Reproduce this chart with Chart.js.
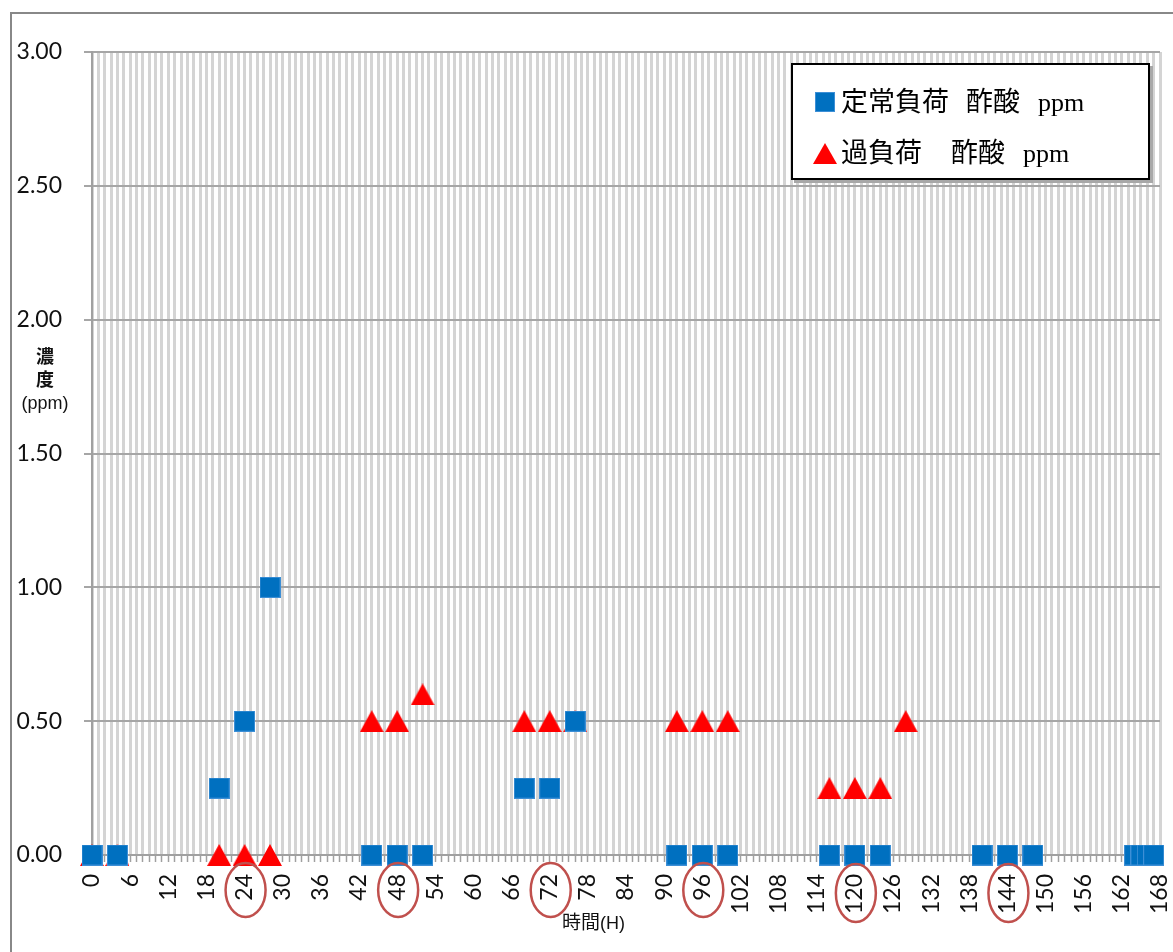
<!DOCTYPE html>
<html>
<head>
<meta charset="utf-8">
<script src="https://cdn.jsdelivr.net/npm/chart.js@4/dist/chart.umd.min.js"></script>
<style>
  html, body { margin: 0; padding: 0; background: #fff; }
  #wrap { position: relative; width: 1173px; height: 952px; overflow: hidden; }
  #frame { position: absolute; left: 10px; top: 12px; width: 1200px; height: 1000px; border: 2px solid #888; }
  #mycanvas { position: absolute; left: 0; top: 0; }
  #ytitle {
    position: absolute; left: 14px; top: 344px; width: 62px; text-align: center;
    font-family: "Noto Sans CJK JP", sans-serif; font-size: 18px; line-height: 23px; color: #111;
    font-weight: 600;
  }
  #ytitle .unit { font-family: "Liberation Sans", sans-serif; font-size: 18px; font-weight: normal; }
  #xtitle {
    position: absolute; left: 562px; top: 909px; white-space: pre;
    font-family: "Noto Sans CJK JP", sans-serif; font-size: 19px; line-height: 24px; color: #111;
  }
  #xtitle .unit { font-family: "Liberation Sans", sans-serif; font-size: 18px; }
  #legend {
    position: absolute; left: 791px; top: 63px; width: 355px; height: 113px;
    background: #fff; border: 2px solid #000; box-shadow: 3px 3px 0 #a8a8a8;
    color: #000;
  }
  #legend .mark { position: absolute; line-height: 0; }
  #legend .row { position: absolute; left: 48px; white-space: pre; line-height: 28px; }
  #legend .jp { display: inline-block; font-family: "Noto Sans CJK JP", sans-serif; font-size: 27px; }
  #legend .en { font-family: "Liberation Serif", serif; font-size: 26px; }
</style>
</head>
<body>
<div id="wrap">
  <div id="frame"></div>
  <canvas id="mycanvas" width="1173" height="952"></canvas>
  <div id="ytitle">濃<br>度<br><span class="unit">(ppm)</span></div>
  <div id="xtitle">時間<span class="unit">(H)</span></div>
  <div id="legend">
    <span class="mark" id="mk1" style="left:22px; top:27px"></span>
    <div class="row" style="top:21px"><span class="jp" style="width:125px">定常負荷</span><span class="jp" style="width:72px">酢酸</span><span class="en">ppm</span></div>
    <span class="mark" id="mk2" style="left:20px; top:78px"></span>
    <div class="row" style="top:72px"><span class="jp" style="width:110px">過負荷　</span><span class="jp" style="width:72px">酢酸</span><span class="en">ppm</span></div>
  </div>
</div>
<script>
// 定常負荷 (steady load) - acetic acid ppm
const hoursSteady = [0, 4, 20, 24, 28, 44, 48, 52, 68, 72, 76, 92, 96, 100, 116, 120, 124, 140, 144, 148, 164, 165, 166, 167];
const aceticSteady = [0, 0, 0.25, 0.5, 1.0, 0, 0, 0, 0.25, 0.25, 0.5, 0, 0, 0, 0, 0, 0, 0, 0, 0, 0, 0, 0, 0];

// 過負荷 (overload) - acetic acid ppm
const hoursOver = [0, 4, 20, 24, 28, 44, 48, 52, 68, 72, 76, 92, 96, 100, 116, 120, 124, 128];
const aceticOver = [0, 0, 0, 0, 0, 0.5, 0.5, 0.6, 0.5, 0.5, 0.5, 0.5, 0.5, 0.5, 0.25, 0.25, 0.25, 0.5];

// hours whose tick label is circled in red
const circledHours = [24, 48, 72, 96, 120, 144];

const seriesNames = ['定常負荷  酢酸 ppm', '過負荷　 酢酸 ppm'];
const blue = '#0070c0';
const red = '#ff0000';

function makeSquare(size, color) {
    const c = document.createElement('canvas');
    c.width = size; c.height = size;
    const g = c.getContext('2d');
    g.fillStyle = color;
    g.fillRect(0, 0, size, size);
    g.strokeStyle = '#3d8fd6';
    g.lineWidth = 1;
    g.strokeRect(0.5, 0.5, size - 1, size - 1);
    return c;
}

function makeTriangle(w, h, color) {
    const c = document.createElement('canvas');
    c.width = w; c.height = h;
    const g = c.getContext('2d');
    g.fillStyle = color;
    g.beginPath();
    g.moveTo(w / 2, 0);
    g.lineTo(w, h);
    g.lineTo(0, h);
    g.closePath();
    g.fill();
    return c;
}

const squareImg = makeSquare(21, blue);
const triangleImg = makeTriangle(24, 22, red);

// legend markers
document.getElementById('mk1').appendChild(makeSquare(20, blue));
document.getElementById('mk2').appendChild(makeTriangle(24, 21, red));

const circleLabels = {
    id: 'circleLabels',
    afterDraw(chart) {
        const ctx = chart.ctx;
        const x = chart.scales.x;
        ctx.save();
        ctx.strokeStyle = '#c0504d';
        ctx.lineWidth = 2.5;
        circledHours.forEach(h => {
            const big = h >= 100;
            const cx = x.getPixelForValue(h) + 1;
            const cy = x.top + (big ? 38 : 35);
            ctx.beginPath();
            ctx.ellipse(cx, cy, 20, big ? 29 : 27, 0, 0, Math.PI * 2);
            ctx.stroke();
        });
        ctx.restore();
    }
};

const tickFont = { family: 'Lato', size: 23 };

new Chart(document.getElementById('mycanvas'), {
    type: 'scatter',
    data: {
        datasets: [{
            label: seriesNames[0],
            data: hoursSteady.map((h, i) => ({ x: h, y: aceticSteady[i] })),
            pointStyle: squareImg,
            backgroundColor: blue,
            borderColor: blue,
            clip: false
        }, {
            label: seriesNames[1],
            data: hoursOver.map((h, i) => ({ x: h, y: aceticOver[i] })),
            pointStyle: triangleImg,
            backgroundColor: red,
            borderColor: red,
            clip: false
        }]
    },
    options: {
        responsive: false,
        animation: false,
        layout: { padding: { left: 0, top: 52, right: 13, bottom: 0 } },
        plugins: {
            legend: { display: false },
            tooltip: { enabled: false }
        },
        scales: {
            x: {
                type: 'linear',
                min: 0,
                max: 168,
                ticks: {
                    stepSize: 1,
                    autoSkip: false,
                    maxTicksLimit: 200,
                    minRotation: 90,
                    maxRotation: 90,
                    padding: 12,
                    color: '#111',
                    font: tickFont,
                    callback: v => (v % 6 === 0 ? String(v) : '')
                },
                grid: { color: '#d4d4d4', lineWidth: 3, tickLength: 7, tickColor: '#a0a0a0', tickWidth: 1.5 },
                border: { color: '#a0a0a0', width: 2 },
                afterFit(scale) {
                    scale.height = 97;
                    scale.paddingLeft = 0;
                    scale.paddingRight = 0;
                }
            },
            y: {
                min: 0,
                max: 3,
                ticks: {
                    stepSize: 0.5,
                    padding: 22,
                    color: '#111',
                    font: tickFont,
                    callback: v => v.toFixed(2)
                },
                grid: { color: '#a6a6a6', lineWidth: 2, tickLength: 8, tickColor: '#a6a6a6' },
                border: { color: '#a0a0a0', width: 2 },
                afterFit(scale) { scale.width = 92; }
            }
        }
    },
    plugins: [circleLabels]
});
</script>
</body>
</html>
